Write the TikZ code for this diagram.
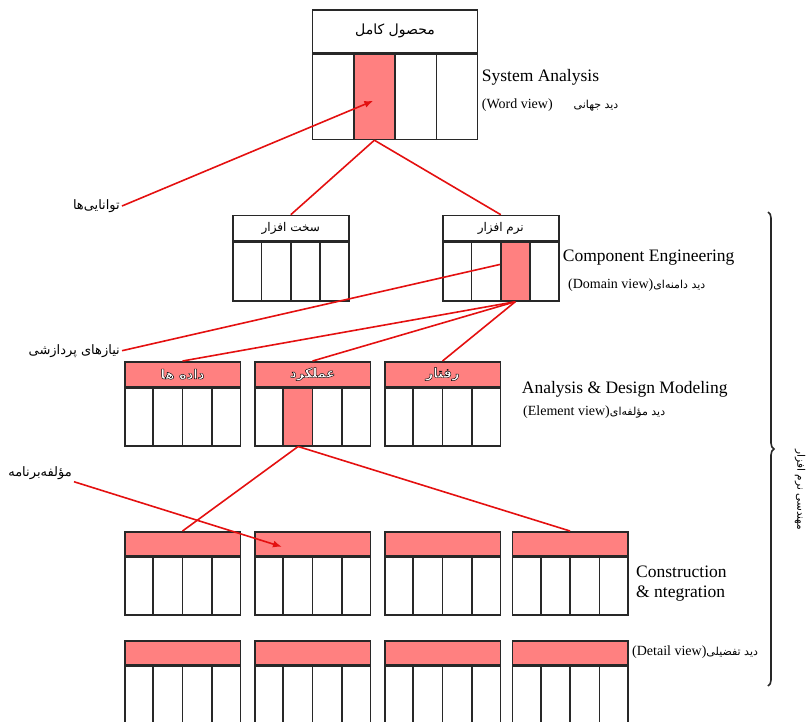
\documentclass[tikz,border=0pt]{standalone}
\usepackage{fontspec}
\setmainfont{Liberation Serif}
\newfontfamily\persianfont[Script=Arabic]{DejaVu Sans}
\usepackage{xcolor}
\usepackage{tikz}
\usetikzlibrary{positioning, calc, arrows.meta, decorations.pathreplacing}
\TeXXeTstate=1
\definecolor{hiPink}{RGB}{255, 128, 128}
\definecolor{lnRed}{RGB}{228, 16, 16}
\definecolor{lnDark}{RGB}{40, 40, 40}
\newcommand{\fa}[1]{{\persianfont\beginR #1\endR}}
\newcommand{\faview}[1]{{\persianfont\fontsize{11}{13}\selectfont\beginR #1\endR}}
\newcommand{\outlined}[1]{{\color{white}\bfseries\special{pdf:literal direct 2 Tr 0.45 w 0 0 0 RG}#1\special{pdf:literal direct 0 Tr}}}
\tikzset{
    headbox/.style={
        rectangle,
        draw=lnDark,
        line width=1.6pt,
        inner sep=0pt,
        font=\fontsize{12}{14}\selectfont
    },
    bodybox/.style={
        rectangle,
        draw=lnDark,
        line width=1.6pt,
        fill=white,
        inner sep=0pt
    },
    hibox/.style={
        bodybox,
        fill=hiPink
    },
    gridline/.style={
        draw=lnDark,
        line width=1.6pt
    },
    link/.style={
        draw=lnRed,
        line width=1.6pt
    },
    pointer/.style={
        link,
        -{Latex[length=9pt, width=7pt]}
    },
    sectitle/.style={
        font=\fontsize{17.5}{20}\selectfont,
        inner sep=0pt,
        align=left
    },
    viewnote/.style={
        font=\fontsize{14}{16}\selectfont,
        inner sep=0pt
    },
    falabel/.style={
        font=\fontsize{13}{15}\selectfont,
        inner sep=2pt
    }
}
% one level box: name, x, y, width, header height, body height, header fill, header text
\newcommand{\viewbox}[8]{%
  \node[headbox, fill=#7, minimum width=#4, minimum height=#5, anchor=north west] (#1-head) at (#2,#3) {#8};
  \node[bodybox, minimum width=#4, minimum height=#6, anchor=north] (#1-body) at (#1-head.south) {};
  \foreach \k in {1,2,3}
    \draw[gridline] ($(#1-body.north west)!\k/4!(#1-body.north east)$) -- ($(#1-body.south west)!\k/4!(#1-body.south east)$);
}
% highlighted column: box name, column index, column width, body height
\newcommand{\hicol}[4]{%
  \node[hibox, minimum width=#3, minimum height=#4, anchor=north west] (#1-hi) at ($(#1-body.north west)+(#2*#3,0)$) {};
}

\begin{document}
\begin{tikzpicture}[x=1pt, y=-1pt]
  \useasboundingbox (0,0) rectangle (811,721);

  % System level
  \viewbox{prod}{311.7}{9.3}{165}{42.4}{85.3}{white}{\fontsize{14}{16}\selectfont\fa{محصول کامل}}
  \hicol{prod}{1}{41.25}{85.3}

  % Component level
  \viewbox{hw}{232}{214.7}{116}{24.9}{58.9}{white}{\fa{سخت افزار}}
  \viewbox{sw}{442}{214.7}{116}{24.9}{58.9}{white}{\fa{نرم افزار}}
  \hicol{sw}{2}{29}{58.9}

  % Element level
  \viewbox{data}{124}{361}{115.5}{24.7}{57.6}{hiPink}{\fontsize{13}{15}\selectfont\outlined{\fa{داده ها}}}
  \viewbox{func}{254}{361}{115.5}{24.7}{57.6}{hiPink}{\fontsize{13}{15}\selectfont\outlined{\fa{عملکرد}}}
  \viewbox{behav}{384}{361}{115.5}{24.7}{57.6}{hiPink}{\fontsize{13}{15}\selectfont\outlined{\fa{رفتار}}}
  \hicol{func}{1}{28.875}{57.6}

  % Construction level
  \viewbox{c1}{124}{531}{115.5}{24}{57.7}{hiPink}{}
  \viewbox{c2}{254}{531}{115.5}{24}{57.7}{hiPink}{}
  \viewbox{c3}{384}{531}{115.5}{24}{57.7}{hiPink}{}
  \viewbox{c4}{511.5}{531}{115.5}{24}{57.7}{hiPink}{}

  % Detail level
  \viewbox{d1}{124}{640}{115.5}{24}{85}{hiPink}{}
  \viewbox{d2}{254}{640}{115.5}{24}{85}{hiPink}{}
  \viewbox{d3}{384}{640}{115.5}{24}{85}{hiPink}{}
  \viewbox{d4}{511.5}{640}{115.5}{24}{85}{hiPink}{}

  % Decomposition links
  \draw[link] (prod-hi.south) -- (hw-head.north);
  \draw[link] (prod-hi.south) -- (sw-head.north);
  \draw[link] (sw-hi.south) -- (data-head.north);
  \draw[link] (sw-hi.south) -- (func-head.north);
  \draw[link] (sw-hi.south) -- (behav-head.north);
  \draw[link] (func-hi.south) -- (c1-head.north);
  \draw[link] (func-hi.south) -- (c4-head.north);

  % Left annotations
  \node[falabel, anchor=east] (abil) at (122,206) {\fa{توانایی‌ها}};
  \node[falabel, anchor=east] (needs) at (122,350.7) {\fa{نیازهای پردازشی}};
  \node[falabel, anchor=east] (prog) at (74,473) {\fa{مؤلفه‌برنامه}};
  \draw[pointer] (abil.east) -- ($(prod-hi.center)+(-1,4)$);
  \draw[link] (needs.east) -- ($(sw-hi.west)+(0,-7)$);
  \draw[pointer] (prog.south east) -- ($(c2-head.west)+(28,3)$);

  % Level titles
  \node[sectitle, anchor=base west] (sysan) at (481.7,81.7) {System Analysis};
  \node[viewnote, anchor=base west] (wview) at (481.7,108) {(Word view)\hspace{21pt}\faview{دید جهانی}};
  \node[sectitle, anchor=base west] (compeng) at (562.7,261) {Component Engineering};
  \node[viewnote, anchor=base west] (dview) at (568,288) {(Domain view)\faview{دید دامنه‌ای}};
  \node[sectitle, anchor=base west] (anmod) at (521.7,393) {Analysis \& Design Modeling};
  \node[viewnote, anchor=base west] (eview) at (523,415) {(Element view)\faview{دید مؤلفه‌ای}};
  \node[sectitle, anchor=base west] (constr) at (636,597) {Construction\\\& ntegration};
  \node[viewnote, anchor=base west] (detview) at (632,655) {(Detail view)\faview{دید تفضیلی}};

  % Software engineering span
  \draw[lnDark, line width=1.6pt, decorate, decoration={brace, amplitude=6pt}] (768,212) -- (768,686);
  \node[falabel, font=\fontsize{10.5}{12}\selectfont, rotate=-90] (sweng) at (800,490) {\fa{مهندسی نرم افزار}};
\end{tikzpicture}
\end{document}
